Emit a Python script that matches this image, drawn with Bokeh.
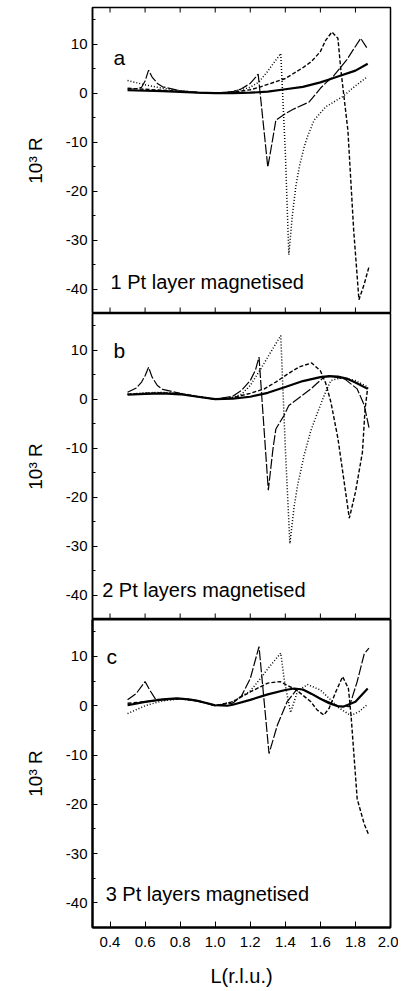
import math
from bokeh.plotting import figure
from bokeh.layouts import column
from bokeh.models import Range1d, LinearAxis, SingleIntervalTicker, FixedTicker, NumeralTickFormatter
from bokeh.core.properties import value
from bokeh.embed import file_html
from bokeh.resources import INLINE

FONT = "Liberation Sans"

# ---------------- data: panel a (1 Pt layer magnetised) ----------------
a_solid_L = [0.5, 0.6, 0.7, 0.8, 0.9, 1.0, 1.1, 1.2, 1.3, 1.4, 1.5, 1.6, 1.65, 1.7, 1.8, 1.87]
a_solid_R = [0.6, 0.5, 0.4, 0.25, 0.1, 0.0, 0.02, 0.1, 0.3, 0.8, 1.3, 2.2, 2.8, 3.4, 4.6, 6.0]
a_ld_L = [0.5, 0.55, 0.58, 0.6, 0.62, 0.64, 0.67, 0.7, 0.8, 0.9, 1.0, 1.1, 1.15, 1.2, 1.22, 1.245,
          1.3, 1.327, 1.346, 1.4, 1.45, 1.536, 1.6, 1.64, 1.67, 1.75, 1.83, 1.87]
a_ld_R = [0.8, 0.9, 1.2, 2.5, 4.7, 3.3, 2.0, 1.3, 0.5, 0.15, 0.0, 0.3, 0.9, 2.0, 2.8, 3.9,
          -15.1, -9.6, -5.5, -4.2, -3.2, -1.8, 1.0, 2.4, 3.3, 6.8, 11.2, 9.0]
a_dot_L = [0.5, 0.6, 0.7, 0.8, 0.9, 1.0, 1.1, 1.2, 1.25, 1.3, 1.33, 1.374, 1.40, 1.42, 1.44, 1.46,
           1.48, 1.508, 1.53, 1.565, 1.63, 1.727, 1.8, 1.87]
a_dot_R = [2.6, 1.7, 1.0, 0.5, 0.15, 0.0, 0.3, 1.2, 2.3, 4.5, 6.0, 8.1, -12.0, -33.0, -25.0, -19.0,
           -15.0, -10.9, -8.5, -5.5, -2.8, -0.7, 1.5, 3.4]
a_dash_L = [0.5, 0.6, 0.7, 0.8, 0.9, 1.0, 1.1, 1.2, 1.25, 1.3, 1.4, 1.5, 1.55, 1.6, 1.63, 1.666,
            1.70, 1.717, 1.757, 1.79, 1.82, 1.85, 1.877]
a_dash_R = [1.0, 0.8, 0.6, 0.35, 0.1, 0.0, 0.2, 0.7, 1.2, 1.8, 3.0, 5.2, 6.5, 8.5, 10.8, 12.5,
            11.2, 4.7, -7.6, -28.0, -42.2, -39.0, -35.5]

# ---------------- data: panel b (2 Pt layers magnetised) ----------------
b_solid_L = [0.5, 0.6, 0.7, 0.8, 0.9, 1.0, 1.1, 1.2, 1.3, 1.4, 1.5, 1.6, 1.65, 1.7, 1.75, 1.8, 1.87]
b_solid_R = [0.9, 1.1, 1.2, 1.0, 0.5, 0.0, 0.1, 0.5, 1.3, 2.5, 3.7, 4.5, 4.7, 4.6, 4.2, 3.4, 2.1]
b_ld_L = [0.5, 0.55, 0.58, 0.6, 0.62, 0.64, 0.67, 0.7, 0.8, 0.9, 1.0, 1.1, 1.15, 1.2, 1.23, 1.25,
          1.303, 1.33, 1.346, 1.393, 1.42, 1.546, 1.62, 1.66, 1.74, 1.81, 1.85, 1.879]
b_ld_R = [1.4, 2.3, 3.5, 4.8, 6.5, 4.5, 2.8, 2.0, 1.2, 0.5, 0.0, 0.6, 1.8, 3.8, 6.0, 8.6,
          -18.6, -10.0, -6.1, -3.3, -1.3, 2.1, 4.5, 4.7, 4.1, 2.1, -1.2, -6.1]
b_dot_L = [0.5, 0.6, 0.7, 0.8, 0.9, 1.0, 1.1, 1.15, 1.2, 1.26, 1.32, 1.374, 1.40, 1.426, 1.45,
           1.47, 1.507, 1.545, 1.584, 1.63, 1.66, 1.72, 1.8, 1.87]
b_dot_R = [1.0, 1.3, 1.4, 1.2, 0.6, 0.0, 0.4, 1.0, 2.8, 6.2, 9.8, 13.0, -10.0, -29.5, -22.0,
           -17.6, -11.5, -6.5, -2.7, 1.5, 3.8, 4.4, 3.8, 2.5]
b_dash_L = [0.5, 0.6, 0.7, 0.8, 0.9, 1.0, 1.1, 1.2, 1.28, 1.35, 1.42, 1.48, 1.55, 1.6, 1.63, 1.66,
            1.70, 1.736, 1.765, 1.80, 1.84, 1.855, 1.87]
b_dash_R = [1.0, 1.2, 1.3, 1.1, 0.5, 0.0, 0.3, 1.2, 2.1, 3.6, 5.3, 6.6, 7.4, 5.8, 3.3, -0.6,
            -8.0, -17.0, -24.3, -19.0, -10.8, -2.0, 2.4]

# ---------------- data: panel c (3 Pt layers magnetised) ----------------
c_solid_L = [0.5, 0.6, 0.7, 0.78, 0.85, 0.9, 1.0, 1.07, 1.1, 1.2, 1.3, 1.4, 1.45, 1.5, 1.55, 1.6,
             1.65, 1.7, 1.73, 1.8, 1.87]
c_solid_R = [0.1, 0.8, 1.3, 1.5, 1.3, 1.0, 0.1, 0.0, 0.2, 1.2, 2.3, 3.2, 3.5, 3.3, 2.4, 1.4,
             0.5, -0.1, -0.2, 0.8, 3.5]
c_ld_L = [0.5, 0.55, 0.6, 0.63, 0.66, 0.7, 0.8, 0.9, 1.0, 1.1, 1.15, 1.2, 1.25, 1.307, 1.355,
          1.41, 1.47, 1.52, 1.6, 1.7, 1.765, 1.81, 1.85, 1.877]
c_ld_R = [1.2, 2.5, 4.9, 3.0, 1.3, 1.2, 1.5, 1.0, 0.1, 0.5, 2.0, 5.5, 12.0, -9.7, -3.9,
          0.8, 3.5, 3.0, 1.5, 0.0, -0.2, 4.9, 10.5, 11.7]
c_dot_L = [0.5, 0.6, 0.7, 0.8, 0.9, 1.0, 1.1, 1.2, 1.26, 1.3, 1.374, 1.395, 1.43, 1.47, 1.527,
           1.6, 1.65, 1.7, 1.774, 1.82, 1.87]
c_dot_R = [-1.6, 0.0, 1.0, 1.4, 1.0, 0.0, 0.8, 3.0, 5.6, 7.5, 10.7, 5.0, -1.4, 3.0, 4.3,
           3.2, 1.5, -0.3, -2.0, -1.2, 0.3]
c_dash_L = [0.5, 0.6, 0.7, 0.8, 0.9, 1.0, 1.1, 1.2, 1.3, 1.37, 1.42, 1.47, 1.546, 1.58, 1.62,
            1.65, 1.69, 1.727, 1.76, 1.775, 1.81, 1.85, 1.877]
c_dash_R = [0.5, 0.8, 1.2, 1.4, 1.0, 0.0, 0.8, 2.8, 4.6, 4.9, 4.0, 3.0, 0.8, -0.8, -1.9,
            -0.5, 3.0, 5.9, 3.5, -2.0, -18.9, -24.0, -26.3]

# ---------------- labels ----------------
panel_letters = ["a", "b", "c"]
letter_L = [0.42, 0.42, 0.38]
letter_R = [7.3, 9.9, 10.0]
panel_notes = ["1 Pt layer magnetised", "2 Pt layers magnetised", "3 Pt layers magnetised"]
note_L = [0.403, 0.355, 0.375]
note_R = [-38.5, -39.0, -38.3]
x_ticks = [0.4, 0.6, 0.8, 1.0, 1.2, 1.4, 1.6, 1.8, 2.0]
x_tick_labels = ["0.4", "0.6", "0.8", "1.0", "1.2", "1.4", "1.6", "1.8", "2.0"]
y_title = "10\u00b3 R"
x_title = "L(r.l.u.)"
X_RANGE = (0.3, 2.0)
Y_RANGE = (-45.0, 17.5)

panels = [
    (a_solid_L, a_solid_R, a_ld_L, a_ld_R, a_dot_L, a_dot_R, a_dash_L, a_dash_R),
    (b_solid_L, b_solid_R, b_ld_L, b_ld_R, b_dot_L, b_dot_R, b_dash_L, b_dash_R),
    (c_solid_L, c_solid_R, c_ld_L, c_ld_R, c_dot_L, c_dot_R, c_dash_L, c_dash_R),
]

frame_heights = [306, 306, 308]
figs = []
shared_x = Range1d(*X_RANGE)
for i, data in enumerate(panels):
    last = (i == 2)
    p = figure(frame_width=298, frame_height=frame_heights[i],
               x_range=shared_x, y_range=Range1d(*Y_RANGE),
               output_backend="svg", toolbar_location=None,
               x_axis_location=None, y_axis_location=None,
               min_border_left=92, min_border_right=8,
               min_border_top=7 if i == 0 else 0, min_border_bottom=0)
    p.grid.visible = False
    p.outline_line_color = "black"
    p.outline_line_width = 2 if last else 1.5
    p.background_fill_color = "white"
    p.border_fill_color = "white"

    # left axis
    yax = LinearAxis(ticker=SingleIntervalTicker(interval=10, num_minor_ticks=2),
                     formatter=NumeralTickFormatter(format="0"),
                     axis_label=y_title)
    yax.axis_line_color = "black"
    yax.axis_line_width = 2 if last else 1.5
    yax.major_tick_in = 5
    yax.major_tick_out = 0
    yax.minor_tick_in = 3
    yax.minor_tick_out = 0
    yax.major_tick_line_color = "black"
    yax.minor_tick_line_color = "black"
    yax.major_label_text_font = FONT
    yax.major_label_text_font_size = "15px"
    yax.major_label_text_color = "black"
    yax.major_label_standoff = 5
    yax.axis_label_text_font = FONT
    yax.axis_label_text_font_size = "19px"
    yax.axis_label_text_font_style = "normal"
    yax.axis_label_text_color = "black"
    yax.axis_label_standoff = 17
    p.add_layout(yax, "left")

    if last:
        xax = LinearAxis(ticker=FixedTicker(ticks=x_ticks))
        xax.axis_line_color = "black"
        xax.axis_line_width = 2
        xax.major_tick_in = 6
        xax.major_tick_out = 0
        xax.minor_tick_in = 0
        xax.minor_tick_out = 0
        xax.major_tick_line_color = "black"
        xax.major_label_overrides = {t: s for t, s in zip(x_ticks, x_tick_labels)}
        xax.major_label_text_font = FONT
        xax.major_label_text_font_size = "15px"
        xax.major_label_text_color = "black"
        xax.major_label_standoff = 9
        xax.axis_label = x_title
        xax.axis_label_text_font = FONT
        xax.axis_label_text_font_size = "20px"
        xax.axis_label_text_font_style = "normal"
        xax.axis_label_text_color = "black"
        xax.axis_label_standoff = 15
        p.add_layout(xax, "below")
    else:
        # inward tick marks on the shared bottom edge (and top edge of panel a)
        p.scatter(x=x_ticks, y=[Y_RANGE[0]] * len(x_ticks), marker="dash", size=12,
                  angle=math.pi / 2, line_color="black", line_width=1)
        if i == 0:
            p.scatter(x=x_ticks, y=[Y_RANGE[1]] * len(x_ticks), marker="dash", size=10,
                      angle=math.pi / 2, line_color="black", line_width=1)

    sL, sR, dL, dR, oL, oR, hL, hR = data
    p.line(sL, sR, line_color="black", line_width=2.2)
    p.line(dL, dR, line_color="black", line_width=1.2, line_dash="10 2")
    p.line(oL, oR, line_color="black", line_width=1.5, line_dash="1 2")
    p.line(hL, hR, line_color="black", line_width=1.4, line_dash="4 2")

    p.text(x=[letter_L[i]], y=[letter_R[i]], text=[panel_letters[i]],
           text_font=value(FONT), text_font_size="21px", text_color="black",
           text_align="left", text_baseline="alphabetic")
    p.text(x=[note_L[i]], y=[note_R[i]], text=[panel_notes[i]],
           text_font=value(FONT), text_font_size="20px", text_color="black",
           text_align="left", text_baseline="alphabetic")
    figs.append(p)

layout = column(*figs, spacing=0)
open("out.html", "w").write(file_html(layout, INLINE))
